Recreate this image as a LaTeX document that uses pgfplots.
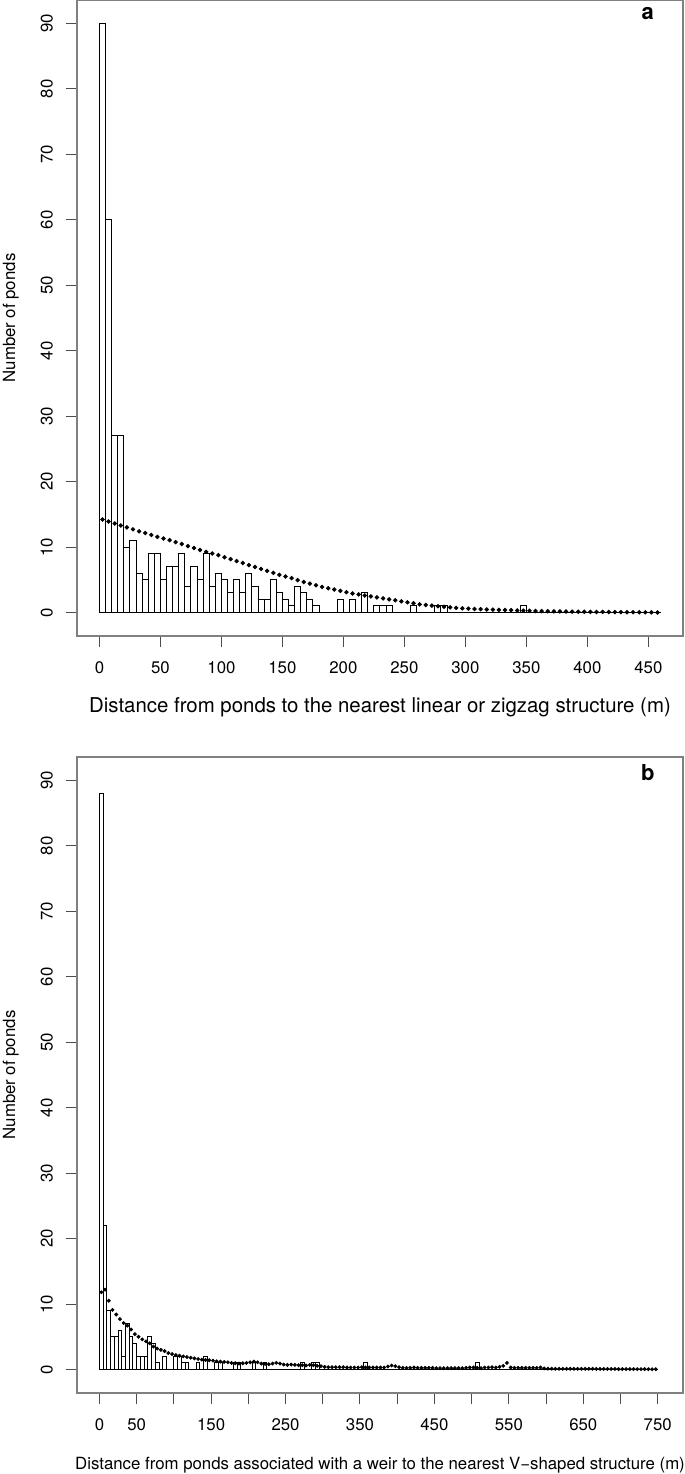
\documentclass[border=0pt]{standalone}
\usepackage{fontspec}
\setmainfont{TeX Gyre Heros}
\usepackage{pgfplots}
\usepackage{pgfplotstable}
\pgfplotsset{compat=1.18}

\definecolor{boxgray}{gray}{0.5}
\definecolor{tickgray}{gray}{0.3}

% histogram of panel a (bin midpoints, 5 m bins)
\pgfplotstableread{
x n
2.5 90
7.5 60
12.5 27
17.5 27
22.5 10
27.5 11
32.5 6
37.5 5
42.5 9
47.5 9
52.5 5
57.5 7
62.5 7
67.5 9
72.5 4
77.5 7
82.5 5
87.5 9
92.5 4
97.5 6
102.5 5
107.5 3
112.5 5
117.5 3
122.5 6
127.5 4
132.5 2
137.5 2
142.5 5
147.5 3
152.5 2
157.5 1
162.5 4
167.5 3
172.5 2
177.5 1
197.5 2
207.5 2
217.5 3
227.5 1
232.5 1
237.5 1
257.5 1
277.5 1
282.5 1
347.5 1
}\histA

% expected counts, panel a
\pgfplotstableread{
x y
2.5 14.2
7.5 13.9
12.5 13.6
17.5 13.3
22.5 13.0
27.5 12.7
32.5 12.4
37.5 12.15
42.5 11.85
47.5 11.55
52.5 11.3
57.5 11.05
62.5 10.75
67.5 10.45
72.5 10.15
77.5 9.85
82.5 9.55
87.5 9.25
92.5 9.0
97.5 8.75
102.5 8.45
107.5 8.15
112.5 7.85
117.5 7.55
122.5 7.25
127.5 6.95
132.5 6.65
137.5 6.35
142.5 6.05
147.5 5.75
152.5 5.5
157.5 5.25
162.5 4.95
167.5 4.65
172.5 4.4
177.5 4.15
182.5 3.9
187.5 3.7
192.5 3.5
197.5 3.3
202.5 3.1
207.5 2.9
212.5 2.75
217.5 2.6
222.5 2.45
227.5 2.3
232.5 2.15
237.5 2.0
242.5 1.85
247.5 1.7
252.5 1.55
257.5 1.4
262.5 1.25
267.5 1.15
272.5 1.05
277.5 0.95
282.5 0.86
287.5 0.78
292.5 0.7
297.5 0.63
302.5 0.58
307.5 0.54
312.5 0.5
317.5 0.46
322.5 0.43
327.5 0.4
332.5 0.37
337.5 0.34
342.5 0.31
347.5 0.28
352.5 0.26
357.5 0.23
362.5 0.21
367.5 0.19
372.5 0.17
377.5 0.155
382.5 0.14
387.5 0.125
392.5 0.115
397.5 0.105
402.5 0.095
407.5 0.085
412.5 0.075
417.5 0.065
422.5 0.055
427.5 0.045
432.5 0.04
437.5 0.035
442.5 0.025
447.5 0.02
452.5 0.015
457.5 0.01
}\fitA

% histogram of panel b
\pgfplotstableread{
x n
2.5 88
7.5 22
12.5 9
17.5 5
22.5 5
27.5 6
32.5 2
37.5 7
42.5 5
47.5 4
52.5 2
57.5 2
62.5 2
67.5 5
72.5 4
77.5 1
87.5 2
102.5 2
107.5 2
112.5 1
117.5 1
132.5 1
142.5 2
157.5 1
162.5 1
182.5 1
187.5 1
207.5 1
222.5 1
272.5 1
287.5 1
292.5 1
357.5 1
507.5 1
}\histB

% expected counts, panel b
\pgfplotstableread{
x y
2.5 11.8
7.5 12.2
12.5 10.5
17.5 9.1
22.5 8.4
27.5 7.7
32.5 7.1
37.5 6.7
42.5 6.1
47.5 5.4
52.5 5.0
57.5 4.6
62.5 4.3
67.5 4.0
72.5 3.5
77.5 3.2
82.5 3.0
87.5 2.8
92.5 2.5
97.5 2.35
102.5 2.2
107.5 2.1
112.5 2.0
117.5 1.9
122.5 1.8
127.5 1.7
132.5 1.6
137.5 1.5
142.5 1.45
147.5 1.4
152.5 1.35
157.5 1.25
162.5 1.2
167.5 1.15
172.5 1.1
177.5 1.0
182.5 0.95
187.5 0.9
192.5 0.95
197.5 1.0
202.5 1.1
207.5 1.2
212.5 1.1
217.5 0.9
222.5 0.85
227.5 0.8
232.5 0.9
237.5 1.0
242.5 0.9
247.5 0.75
252.5 0.7
257.5 0.75
262.5 0.7
267.5 0.65
272.5 0.65
277.5 0.6
282.5 0.7
287.5 0.65
292.5 0.55
297.5 0.5
302.5 0.4
307.5 0.35
312.5 0.35
317.5 0.35
322.5 0.35
327.5 0.35
332.5 0.3
337.5 0.3
342.5 0.3
347.5 0.3
352.5 0.35
357.5 0.3
362.5 0.3
367.5 0.3
372.5 0.3
377.5 0.3
382.5 0.3
387.5 0.45
392.5 0.6
397.5 0.5
402.5 0.35
407.5 0.25
412.5 0.25
417.5 0.25
422.5 0.3
427.5 0.25
432.5 0.25
437.5 0.25
442.5 0.25
447.5 0.25
452.5 0.2
457.5 0.2
462.5 0.2
467.5 0.2
472.5 0.2
477.5 0.2
482.5 0.2
487.5 0.2
492.5 0.25
497.5 0.3
502.5 0.3
507.5 0.25
512.5 0.2
517.5 0.3
522.5 0.3
527.5 0.35
532.5 0.3
537.5 0.4
542.5 0.55
547.5 1.0
552.5 0.3
557.5 0.25
562.5 0.25
567.5 0.25
572.5 0.25
577.5 0.25
582.5 0.25
587.5 0.25
592.5 0.3
597.5 0.15
602.5 0.12
607.5 0.12
612.5 0.1
617.5 0.1
622.5 0.1
627.5 0.1
632.5 0.1
637.5 0.1
642.5 0.1
647.5 0.1
652.5 0.1
657.5 0.1
662.5 0.1
667.5 0.08
672.5 0.08
677.5 0.08
682.5 0.08
687.5 0.08
692.5 0.08
697.5 0.06
702.5 0.06
707.5 0.06
712.5 0.06
717.5 0.06
722.5 0.05
727.5 0.05
732.5 0.05
737.5 0.04
742.5 0.04
747.5 0.04
}\fitB

\pgfplotsset{
  pondaxis/.style={
    scale only axis, width=303pt, height=318pt,
    ymin=-3.6, ymax=93.6, ytick={0,10,...,90},
    axis line style={boxgray, line width=0.6pt},
    tick style={tickgray, line width=0.5pt},
    tick align=outside, tick pos=left,
    major tick length=5.5pt,
    /pgf/number format/assume math mode=true,
    tick label style={font=\fontsize{8.4}{10}\selectfont},
    label style={font=\fontsize{8.4}{10}\selectfont},
    yticklabel style={rotate=90, anchor=base},
    yticklabel shift=6.7pt,
    xticklabel style={anchor=base, yshift=-13.3pt},
    ylabel={Number of ponds},
    ylabel style={at={(axis description cs:-0.1023,0.5)}, anchor=base},
    xlabel style={at={(axis description cs:0.5,-0.121)}, anchor=base},
  },
  histbars/.style={ybar, bar width=5, bar shift=0pt, fill=white, draw=black, line width=0.5pt},
  fitdots/.style={only marks, mark=*, mark size=0.9pt, black},
}

\begin{document}
\begin{tikzpicture}
\useasboundingbox (0,0) rectangle (342.5pt,-737pt);

\begin{axis}[pondaxis,
    at={(38.5pt,-318pt)}, anchor=south west,
    xmin=-18.4, xmax=478.4, xtick={0,50,...,450},
    xlabel style={font=\fontsize{10.2}{12}\selectfont},
    xlabel={Distance from ponds to the nearest linear or zigzag structure (m)}]
  \addplot[black, line width=0.5pt] coordinates {(0,0) (460,0)};
  \addplot[histbars] table[x=x, y=n] {\histA};
  \addplot[fitdots] table[x=x, y=y] {\fitA};
  \node[font=\fontsize{11}{13}\selectfont\bfseries] at (rel axis cs:0.942,0.978) {a};
\end{axis}

\begin{axis}[pondaxis,
    at={(38.5pt,-696.5pt)}, anchor=south west,
    xmin=-30.2, xmax=784, xtick={0,50,...,750},
    xticklabels={0,50,,150,,250,,350,,450,,550,,650,,750},
    xlabel={Distance from ponds associated with a weir to the nearest V−shaped structure (m)}]
  \addplot[black, line width=0.5pt] coordinates {(0,0) (750,0)};
  \addplot[histbars] table[x=x, y=n] {\histB};
  \addplot[fitdots, mark size=0.75pt] table[x=x, y=y] {\fitB};
  \node[font=\fontsize{11}{13}\selectfont\bfseries] at (rel axis cs:0.942,0.975) {b};
\end{axis}
\end{tikzpicture}
\end{document}
